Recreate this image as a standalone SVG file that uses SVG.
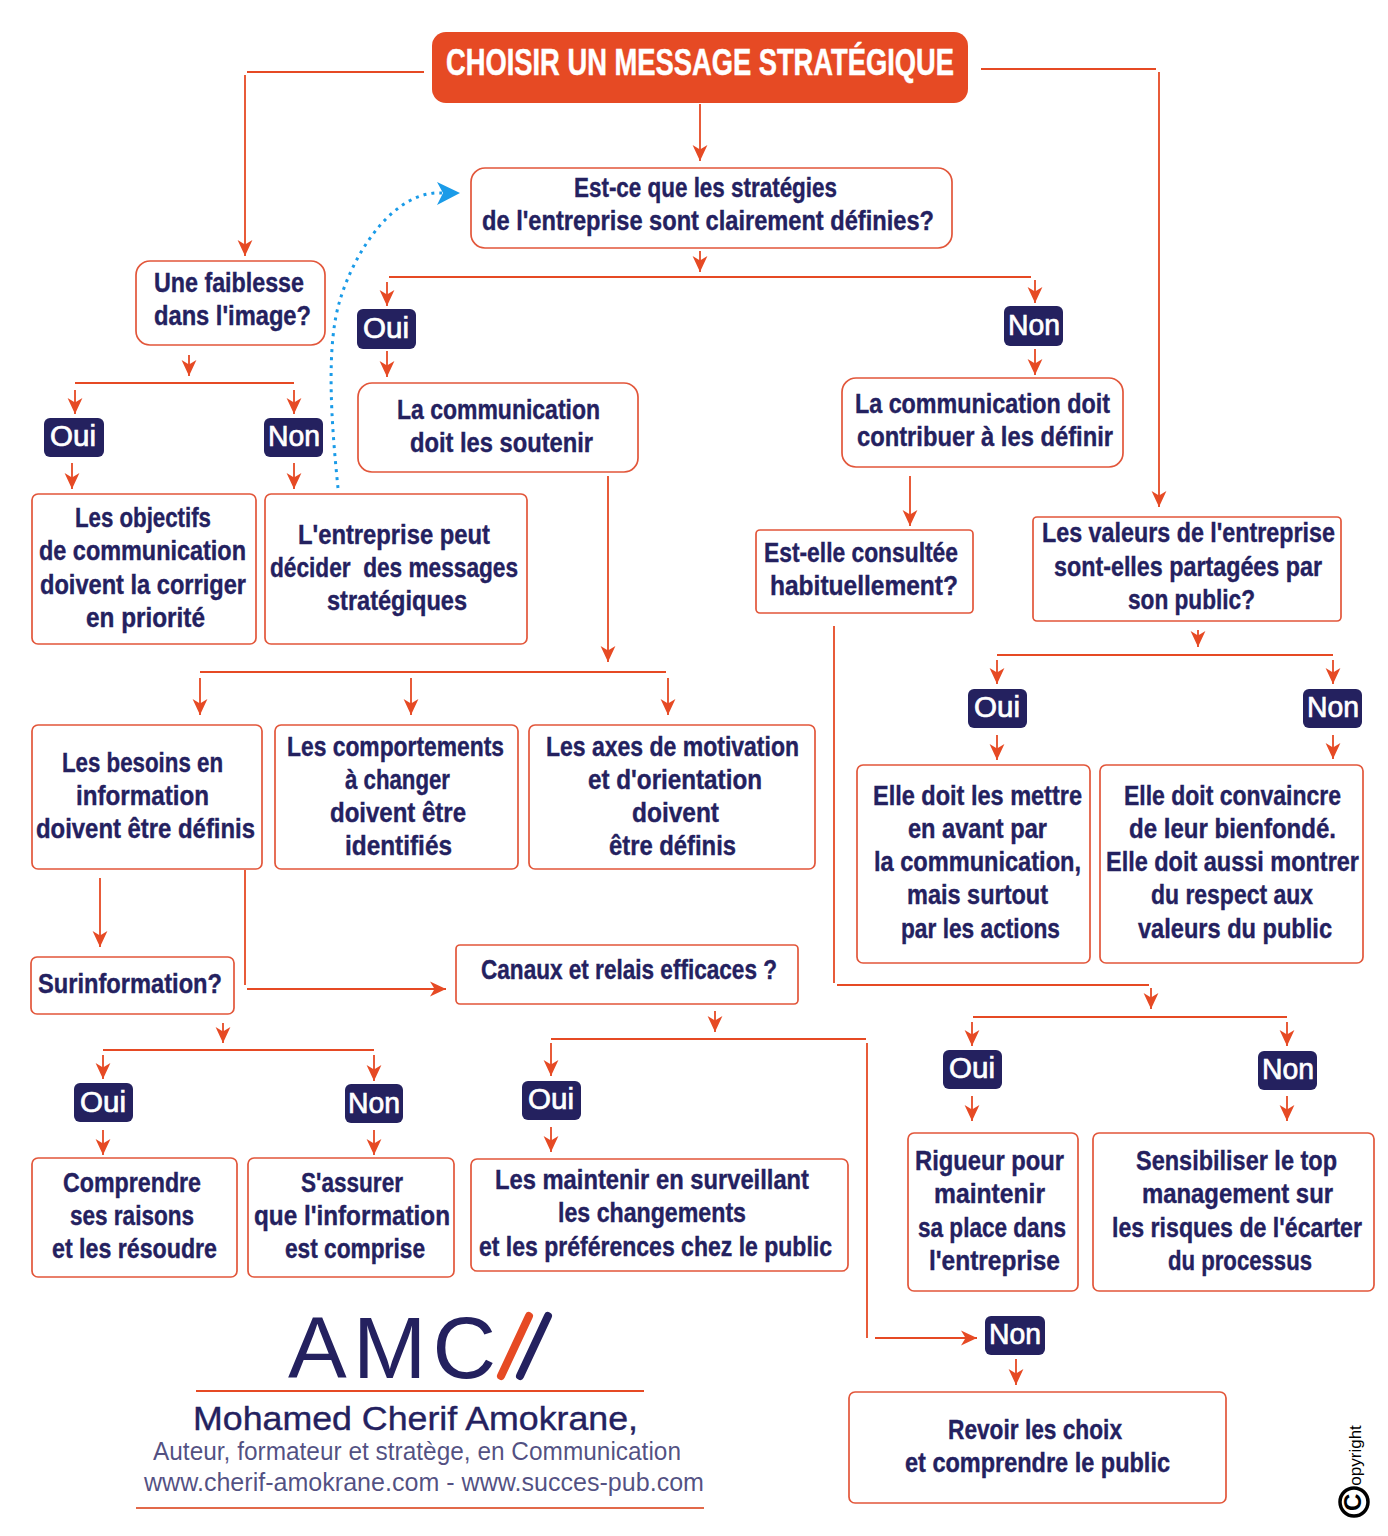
<svg xmlns="http://www.w3.org/2000/svg" width="1388" height="1536" viewBox="0 0 1388 1536">
<style>
.b{fill:#fff;stroke:#e2563a;stroke-width:1.7}
.p{fill:#24215f}
text{font-family:"Liberation Sans",Arial,sans-serif}
.t{font-size:28px;font-weight:700;fill:#24215f;stroke:#24215f;stroke-width:.4}
.w{font-size:29px;font-weight:400;fill:#fff;stroke:#fff;stroke-width:.7;text-anchor:middle}
.h{font-size:36px;font-weight:700;fill:#fff;stroke:#fff;stroke-width:.5}
.c line{stroke:#e64a24;stroke-width:1.8;fill:none}
.a{marker-end:url(#ar)}
.l{fill:#24215f}
</style>
<defs>
<marker id="ar" markerUnits="userSpaceOnUse" markerWidth="16" markerHeight="16" viewBox="0 0 14 14" refX="14" refY="7" orient="auto"><path d="M14,7L0,0.5L4,7L0,13.5Z" fill="#e64a24"/></marker>
</defs>
<rect width="1388" height="1536" fill="#fff"/>
<g id="connectors" class="c">
<line x1="247" y1="72" x2="424" y2="72"/>
<line class="a" x1="245" y1="75" x2="245" y2="256"/>
<line x1="981" y1="69" x2="1156" y2="69"/>
<line class="a" x1="1159" y1="72" x2="1159" y2="507"/>
<line class="a" x1="700" y1="104" x2="700" y2="161"/>
<line class="a" x1="700" y1="251" x2="700" y2="272"/>
<line x1="389" y1="277" x2="1031" y2="277"/>
<line class="a" x1="387" y1="282" x2="387" y2="306"/>
<line class="a" x1="1035" y1="280" x2="1035" y2="303"/>
<line class="a" x1="387" y1="351" x2="387" y2="377"/>
<line class="a" x1="1035" y1="349" x2="1035" y2="375"/>
<line class="a" x1="189" y1="355" x2="189" y2="376"/>
<line x1="75" y1="383" x2="294" y2="383"/>
<line class="a" x1="75" y1="390" x2="75" y2="414"/>
<line class="a" x1="294" y1="390" x2="294" y2="414"/>
<line class="a" x1="72" y1="463" x2="72" y2="489"/>
<line class="a" x1="294" y1="463" x2="294" y2="489"/>
<line class="a" x1="910" y1="476" x2="910" y2="526"/>
<line class="a" x1="608" y1="476" x2="608" y2="662"/>
<line x1="200" y1="672" x2="666" y2="672"/>
<line class="a" x1="200" y1="678" x2="200" y2="715"/>
<line class="a" x1="411" y1="678" x2="411" y2="715"/>
<line class="a" x1="668" y1="678" x2="668" y2="715"/>
<line class="a" x1="100" y1="878" x2="100" y2="947"/>
<line x1="245" y1="870" x2="245" y2="985"/>
<line class="a" x1="247" y1="989" x2="446" y2="989"/>
<line class="a" x1="223" y1="1023" x2="223" y2="1043"/>
<line x1="103" y1="1050" x2="374" y2="1050"/>
<line class="a" x1="103" y1="1055" x2="103" y2="1079"/>
<line class="a" x1="374" y1="1055" x2="374" y2="1081"/>
<line class="a" x1="103" y1="1130" x2="103" y2="1155"/>
<line class="a" x1="374" y1="1130" x2="374" y2="1155"/>
<line class="a" x1="715" y1="1011" x2="715" y2="1032"/>
<line x1="551" y1="1039" x2="866" y2="1039"/>
<line class="a" x1="551" y1="1043" x2="551" y2="1076"/>
<line class="a" x1="551" y1="1127" x2="551" y2="1152"/>
<line x1="867" y1="1043" x2="867" y2="1338"/>
<line class="a" x1="875" y1="1338" x2="977" y2="1338"/>
<line class="a" x1="1016" y1="1359" x2="1016" y2="1385"/>
<line x1="834" y1="626" x2="834" y2="983"/>
<line x1="837" y1="985" x2="1149" y2="985"/>
<line class="a" x1="1151" y1="988" x2="1151" y2="1009"/>
<line x1="973" y1="1017" x2="1287" y2="1017"/>
<line class="a" x1="972" y1="1022" x2="972" y2="1046"/>
<line class="a" x1="1287" y1="1022" x2="1287" y2="1046"/>
<line class="a" x1="972" y1="1096" x2="972" y2="1121"/>
<line class="a" x1="1287" y1="1096" x2="1287" y2="1121"/>
<line class="a" x1="1198" y1="630" x2="1198" y2="647"/>
<line x1="997" y1="655" x2="1333" y2="655"/>
<line class="a" x1="997" y1="660" x2="997" y2="684"/>
<line class="a" x1="1333" y1="660" x2="1333" y2="684"/>
<line class="a" x1="997" y1="735" x2="997" y2="760"/>
<line class="a" x1="1333" y1="735" x2="1333" y2="759"/>
<path d="M338,488C331,420 326,345 340,300C355,250 395,190 442,193" fill="none" stroke="#1a9be8" stroke-width="3" stroke-dasharray="3 5"/>
<path d="M460,193L437,182L443,193L437,205Z" fill="#1a9be8"/>
</g>
<g id="title"><rect x="432" y="32" width="536" height="71" rx="14" fill="#e64a24"/><text class="h" x="446" y="75" textLength="508" lengthAdjust="spacingAndGlyphs">CHOISIR UN MESSAGE STRATÉGIQUE</text></g>
<g id="q-strategies"><rect class="b" x="471" y="168" width="481" height="80" rx="14"/><text class="t" x="574" y="197" textLength="263" lengthAdjust="spacingAndGlyphs">Est-ce que les stratégies</text><text class="t" x="482" y="230" textLength="452" lengthAdjust="spacingAndGlyphs">de l'entreprise sont clairement définies?</text></g>
<g id="q-image"><rect class="b" x="136" y="261" width="189" height="84" rx="14"/><text class="t" x="154" y="292" textLength="150" lengthAdjust="spacingAndGlyphs">Une faiblesse</text><text class="t" x="154" y="325" textLength="157" lengthAdjust="spacingAndGlyphs">dans l'image?</text></g>
<g id="soutenir"><rect class="b" x="358" y="383" width="280" height="89" rx="14"/><text class="t" x="397" y="419" textLength="203" lengthAdjust="spacingAndGlyphs">La communication</text><text class="t" x="410" y="452" textLength="183" lengthAdjust="spacingAndGlyphs">doit les soutenir</text></g>
<g id="contribuer"><rect class="b" x="842" y="378" width="281" height="89" rx="14"/><text class="t" x="855" y="413" textLength="255" lengthAdjust="spacingAndGlyphs">La communication doit</text><text class="t" x="857" y="446" textLength="256" lengthAdjust="spacingAndGlyphs">contribuer à les définir</text></g>
<g id="objectifs"><rect class="b" x="32" y="494" width="224" height="150" rx="6"/><text class="t" x="75" y="527" textLength="136" lengthAdjust="spacingAndGlyphs">Les objectifs</text><text class="t" x="39" y="560" textLength="207" lengthAdjust="spacingAndGlyphs">de communication</text><text class="t" x="40" y="594" textLength="206" lengthAdjust="spacingAndGlyphs">doivent la corriger</text><text class="t" x="86" y="627" textLength="119" lengthAdjust="spacingAndGlyphs">en priorité</text></g>
<g id="entreprise"><rect class="b" x="265" y="494" width="262" height="150" rx="6"/><text class="t" x="298" y="544" textLength="192" lengthAdjust="spacingAndGlyphs">L'entreprise peut</text><text class="t" x="270" y="577" textLength="248" lengthAdjust="spacingAndGlyphs" xml:space="preserve">décider  des messages</text><text class="t" x="327" y="610" textLength="140" lengthAdjust="spacingAndGlyphs">stratégiques</text></g>
<g id="consultee"><rect class="b" x="756" y="530" width="217" height="83" rx="4"/><text class="t" x="764" y="562" textLength="194" lengthAdjust="spacingAndGlyphs">Est-elle consultée</text><text class="t" x="770" y="595" textLength="188" lengthAdjust="spacingAndGlyphs">habituellement?</text></g>
<g id="valeurs"><rect class="b" x="1033" y="517" width="308" height="104" rx="4"/><text class="t" x="1042" y="542" textLength="293" lengthAdjust="spacingAndGlyphs">Les valeurs de l'entreprise</text><text class="t" x="1054" y="576" textLength="268" lengthAdjust="spacingAndGlyphs">sont-elles partagées par</text><text class="t" x="1128" y="609" textLength="127" lengthAdjust="spacingAndGlyphs">son public?</text></g>
<g id="besoins"><rect class="b" x="32" y="725" width="230" height="144" rx="6"/><text class="t" x="62" y="772" textLength="161" lengthAdjust="spacingAndGlyphs">Les besoins en</text><text class="t" x="76" y="805" textLength="133" lengthAdjust="spacingAndGlyphs">information</text><text class="t" x="36" y="838" textLength="219" lengthAdjust="spacingAndGlyphs">doivent être définis</text></g>
<g id="comportements"><rect class="b" x="275" y="725" width="243" height="144" rx="6"/><text class="t" x="287" y="756" textLength="217" lengthAdjust="spacingAndGlyphs">Les comportements</text><text class="t" x="345" y="789" textLength="105" lengthAdjust="spacingAndGlyphs">à changer</text><text class="t" x="330" y="822" textLength="136" lengthAdjust="spacingAndGlyphs">doivent être</text><text class="t" x="345" y="855" textLength="107" lengthAdjust="spacingAndGlyphs">identifiés</text></g>
<g id="axes"><rect class="b" x="529" y="725" width="286" height="144" rx="6"/><text class="t" x="546" y="756" textLength="253" lengthAdjust="spacingAndGlyphs">Les axes de motivation</text><text class="t" x="588" y="789" textLength="174" lengthAdjust="spacingAndGlyphs">et d'orientation</text><text class="t" x="632" y="822" textLength="87" lengthAdjust="spacingAndGlyphs">doivent</text><text class="t" x="609" y="855" textLength="127" lengthAdjust="spacingAndGlyphs">être définis</text></g>
<g id="mettre"><rect class="b" x="857" y="765" width="233" height="198" rx="6"/><text class="t" x="873" y="805" textLength="209" lengthAdjust="spacingAndGlyphs">Elle doit les mettre</text><text class="t" x="908" y="838" textLength="139" lengthAdjust="spacingAndGlyphs">en avant par</text><text class="t" x="874" y="871" textLength="207" lengthAdjust="spacingAndGlyphs">la communication,</text><text class="t" x="907" y="904" textLength="141" lengthAdjust="spacingAndGlyphs">mais surtout</text><text class="t" x="901" y="938" textLength="159" lengthAdjust="spacingAndGlyphs">par les actions</text></g>
<g id="convaincre"><rect class="b" x="1100" y="765" width="263" height="198" rx="6"/><text class="t" x="1124" y="805" textLength="217" lengthAdjust="spacingAndGlyphs">Elle doit convaincre</text><text class="t" x="1129" y="838" textLength="207" lengthAdjust="spacingAndGlyphs">de leur bienfondé.</text><text class="t" x="1106" y="871" textLength="253" lengthAdjust="spacingAndGlyphs">Elle doit aussi montrer</text><text class="t" x="1151" y="904" textLength="162" lengthAdjust="spacingAndGlyphs">du respect aux</text><text class="t" x="1138" y="938" textLength="194" lengthAdjust="spacingAndGlyphs">valeurs du public</text></g>
<g id="surinformation"><rect class="b" x="31" y="957" width="203" height="57" rx="6"/><text class="t" x="38" y="993" textLength="184" lengthAdjust="spacingAndGlyphs">Surinformation?</text></g>
<g id="canaux"><rect class="b" x="456" y="945" width="342" height="59" rx="4"/><text class="t" x="481" y="979" textLength="296" lengthAdjust="spacingAndGlyphs">Canaux et relais efficaces ?</text></g>
<g id="comprendre"><rect class="b" x="32" y="1158" width="205" height="119" rx="6"/><text class="t" x="63" y="1192" textLength="138" lengthAdjust="spacingAndGlyphs">Comprendre</text><text class="t" x="70" y="1225" textLength="124" lengthAdjust="spacingAndGlyphs">ses raisons</text><text class="t" x="52" y="1258" textLength="165" lengthAdjust="spacingAndGlyphs">et les résoudre</text></g>
<g id="assurer"><rect class="b" x="248" y="1158" width="206" height="119" rx="6"/><text class="t" x="301" y="1192" textLength="102" lengthAdjust="spacingAndGlyphs">S'assurer</text><text class="t" x="254" y="1225" textLength="196" lengthAdjust="spacingAndGlyphs">que l'information</text><text class="t" x="285" y="1258" textLength="140" lengthAdjust="spacingAndGlyphs">est comprise</text></g>
<g id="maintenir"><rect class="b" x="471" y="1159" width="377" height="112" rx="6"/><text class="t" x="495" y="1189" textLength="314" lengthAdjust="spacingAndGlyphs">Les maintenir en surveillant</text><text class="t" x="558" y="1222" textLength="188" lengthAdjust="spacingAndGlyphs">les changements</text><text class="t" x="479" y="1256" textLength="353" lengthAdjust="spacingAndGlyphs">et les préférences chez le public</text></g>
<g id="rigueur"><rect class="b" x="908" y="1133" width="170" height="158" rx="6"/><text class="t" x="915" y="1170" textLength="149" lengthAdjust="spacingAndGlyphs">Rigueur pour</text><text class="t" x="934" y="1203" textLength="111" lengthAdjust="spacingAndGlyphs">maintenir</text><text class="t" x="918" y="1237" textLength="148" lengthAdjust="spacingAndGlyphs">sa place dans</text><text class="t" x="929" y="1270" textLength="131" lengthAdjust="spacingAndGlyphs">l'entreprise</text></g>
<g id="sensibiliser"><rect class="b" x="1093" y="1133" width="281" height="158" rx="6"/><text class="t" x="1136" y="1170" textLength="201" lengthAdjust="spacingAndGlyphs">Sensibiliser le top</text><text class="t" x="1142" y="1203" textLength="191" lengthAdjust="spacingAndGlyphs">management sur</text><text class="t" x="1112" y="1237" textLength="250" lengthAdjust="spacingAndGlyphs">les risques de l'écarter</text><text class="t" x="1168" y="1270" textLength="144" lengthAdjust="spacingAndGlyphs">du processus</text></g>
<g id="revoir"><rect class="b" x="849" y="1392" width="377" height="111" rx="6"/><text class="t" x="948" y="1439" textLength="174" lengthAdjust="spacingAndGlyphs">Revoir les choix</text><text class="t" x="905" y="1472" textLength="265" lengthAdjust="spacingAndGlyphs">et comprendre le public</text></g>
<g id="oui1"><rect class="p" x="44" y="418" width="60" height="39" rx="6"/><text class="w" x="73" y="446" textLength="46" lengthAdjust="spacingAndGlyphs">Oui</text></g>
<g id="non1"><rect class="p" x="264" y="418" width="59" height="39" rx="6"/><text class="w" x="294" y="446" textLength="52" lengthAdjust="spacingAndGlyphs">Non</text></g>
<g id="oui2"><rect class="p" x="357" y="309" width="59" height="40" rx="6"/><text class="w" x="386" y="338" textLength="46" lengthAdjust="spacingAndGlyphs">Oui</text></g>
<g id="non2"><rect class="p" x="1004" y="306" width="59" height="40" rx="6"/><text class="w" x="1034" y="335" textLength="52" lengthAdjust="spacingAndGlyphs">Non</text></g>
<g id="oui3"><rect class="p" x="968" y="689" width="59" height="39" rx="6"/><text class="w" x="997" y="717" textLength="46" lengthAdjust="spacingAndGlyphs">Oui</text></g>
<g id="non3"><rect class="p" x="1303" y="689" width="59" height="39" rx="6"/><text class="w" x="1333" y="717" textLength="52" lengthAdjust="spacingAndGlyphs">Non</text></g>
<g id="oui4"><rect class="p" x="943" y="1050" width="59" height="39" rx="6"/><text class="w" x="972" y="1078" textLength="46" lengthAdjust="spacingAndGlyphs">Oui</text></g>
<g id="non4"><rect class="p" x="1258" y="1051" width="59" height="39" rx="6"/><text class="w" x="1288" y="1079" textLength="52" lengthAdjust="spacingAndGlyphs">Non</text></g>
<g id="oui5"><rect class="p" x="74" y="1083" width="59" height="39" rx="6"/><text class="w" x="103" y="1112" textLength="46" lengthAdjust="spacingAndGlyphs">Oui</text></g>
<g id="non5"><rect class="p" x="345" y="1084" width="58" height="39" rx="6"/><text class="w" x="374" y="1113" textLength="52" lengthAdjust="spacingAndGlyphs">Non</text></g>
<g id="oui6"><rect class="p" x="522" y="1081" width="59" height="39" rx="6"/><text class="w" x="551" y="1109" textLength="46" lengthAdjust="spacingAndGlyphs">Oui</text></g>
<g id="non6"><rect class="p" x="985" y="1316" width="60" height="39" rx="6"/><text class="w" x="1015" y="1344" textLength="52" lengthAdjust="spacingAndGlyphs">Non</text></g>
<g id="logo">
<text class="l" x="288" y="1378" font-size="88" textLength="208">AMC</text>
<line x1="529" y1="1316" x2="501" y2="1376" stroke="#e64a24" stroke-width="8" stroke-linecap="round"/>
<line x1="548" y1="1316" x2="520" y2="1376" stroke="#24215f" stroke-width="8" stroke-linecap="round"/>
<line x1="196" y1="1391" x2="644" y2="1391" stroke="#e64a24" stroke-width="2"/>
<text class="l" x="193" y="1430" font-size="34" stroke="#24215f" stroke-width=".4" textLength="445" lengthAdjust="spacingAndGlyphs">Mohamed Cherif Amokrane,</text>
<text class="l" x="153" y="1460" font-size="25" fill-opacity=".78" textLength="528" lengthAdjust="spacingAndGlyphs">Auteur, formateur et stratège, en Communication</text>
<text class="l" x="144" y="1491" font-size="25" fill-opacity=".78" textLength="560" lengthAdjust="spacingAndGlyphs">www.cherif-amokrane.com - www.succes-pub.com</text>
<line x1="136" y1="1508" x2="704" y2="1508" stroke="#e2694a" stroke-width="2"/>
</g>
<g id="copyright">
<circle cx="1354" cy="1502" r="14" fill="none" stroke="#000" stroke-width="3.5"/>
<text transform="translate(1361,1511) rotate(-90)" fill="#000"><tspan font-size="24" font-weight="700">C</tspan><tspan font-size="17" dx="8">opyright</tspan></text>
</g>
</svg>
